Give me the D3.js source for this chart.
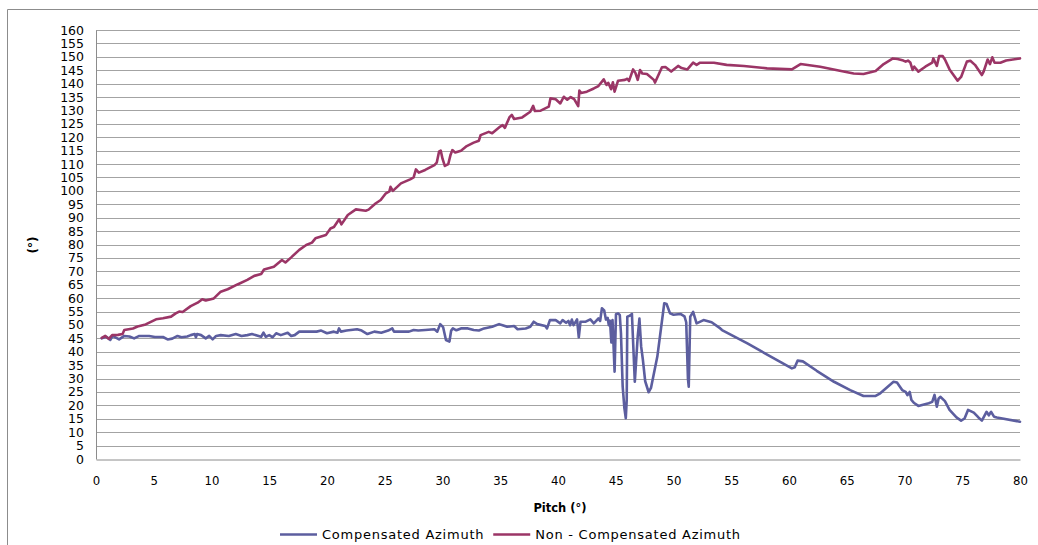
<!DOCTYPE html>
<html>
<head>
<meta charset="utf-8">
<script src="https://cdn.jsdelivr.net/npm/d3@7"></script>
<style>
  html, body { margin: 0; padding: 0; background: #fff; }
  svg { display: block; }
</style>
</head>
<body>
<svg id="chart" width="1038" height="545"></svg>
<script>
// Azimuth readings versus pitch angle, with and without tilt compensation.
const seriesNames = ["Compensated Azimuth", "Non - Compensated Azimuth"];
const xTicks = [0, 5, 10, 15, 20, 25, 30, 35, 40, 45, 50, 55, 60, 65, 70, 75, 80];
const yTicks = d3.range(0, 161, 5);

const compPitch = [0.5,0.9,1.24,1.44,2.0,2.45,2.9,3.3,3.75,4.6,5.1,5.8,6.2,6.6,7.06,7.4,7.9,8.2,8.55,8.65,8.75,9.1,9.5,9.8,10.1,10.4,10.8,11.5,12.1,12.6,13.1,13.5,14.3,14.5,14.7,15.0,15.3,15.6,16.0,16.6,16.9,17.2,17.6,18.6,19.1,19.5,20.0,20.6,20.9,21.04,21.2,21.7,22.6,23.0,23.5,24.1,24.7,25.3,25.65,25.8,26.4,27.1,27.5,27.9,28.5,29.3,29.55,29.8,30.05,30.3,30.6,30.75,30.9,31.2,31.6,32.2,32.7,33.15,33.6,34.3,34.9,35.2,35.6,36.2,36.5,37.2,37.6,37.9,38.2,38.9,39.05,39.3,39.8,40.2,40.4,40.7,40.9,41.05,41.2,41.35,41.65,41.8,41.95,42.4,42.8,43.1,43.5,43.65,43.8,44.0,44.15,44.3,44.4,44.5,44.62,44.72,44.9,45.02,45.2,45.35,45.45,45.6,45.75,45.87,45.95,46.0,46.2,46.4,46.65,46.9,47.05,47.2,47.35,47.55,47.85,48.05,48.6,48.9,49.2,49.4,49.7,50.0,50.6,50.95,51.1,51.25,51.32,51.45,51.7,52.0,52.6,53.3,54.05,54.2,56.4,59.2,60.25,60.5,60.75,61.2,62.4,63.9,65.3,66.45,67.5,67.9,69.05,69.35,69.8,70.1,70.25,70.45,70.6,70.8,71.2,72.1,72.4,72.6,72.8,72.95,73.1,73.5,73.9,74.5,74.9,75.2,75.5,76.0,76.4,76.7,77.1,77.3,77.5,77.75,78.0,80.0];
const compAzimuth = [45.0,45.6,44.4,45.9,44.6,45.9,45.7,45.0,45.9,45.9,45.5,45.5,44.6,44.9,45.9,45.4,45.7,46.2,46.6,45.4,46.6,46.2,45.0,45.9,44.6,45.9,46.2,45.9,46.6,45.9,46.2,46.6,45.6,47.1,45.6,46.2,45.4,46.9,46.2,47.1,45.9,46.2,47.5,47.5,47.5,47.9,46.9,47.5,47.1,48.7,47.5,47.9,48.4,47.9,46.6,47.5,47.1,47.9,48.7,47.5,47.5,47.5,48.1,47.9,48.1,48.4,47.5,50.3,49.2,44.4,43.8,47.9,48.7,48.0,48.7,48.7,48.1,47.9,48.7,49.3,50.3,49.9,49.3,49.6,48.4,48.7,49.3,51.2,50.3,49.6,48.7,51.8,51.8,50.6,51.8,50.8,51.5,49.9,52.0,49.9,52.1,45.4,51.2,51.2,52.1,50.6,52.4,51.5,56.2,55.4,52.0,52.6,49.9,51.6,43.5,51.8,32.6,54.0,54.3,53.7,47.0,27.0,18.9,15.2,22.0,53.1,53.4,54.1,28.8,45.6,52.4,41.9,37.0,29.0,24.9,26.5,38.2,48.1,58.1,57.8,54.3,53.8,54.1,53.2,51.0,30.0,27.0,53.1,54.9,50.6,51.8,51.0,48.7,48.1,43.1,36.3,33.8,34.2,36.7,36.4,32.9,28.8,25.7,23.5,23.5,24.5,28.8,28.5,25.7,25.0,23.8,25.0,22.0,21.0,19.8,20.8,21.3,23.9,19.5,22.5,23.2,21.6,18.3,15.5,14.3,15.1,18.3,17.3,15.5,14.3,17.6,16.3,17.6,15.8,15.5,13.9];

const rawPitch = [0.5,0.8,1.1,1.4,1.9,2.3,2.45,3.2,3.6,4.3,5.2,5.8,6.5,6.9,7.2,7.5,8.2,8.8,9.2,9.5,10.2,10.8,11.4,12.25,13.1,13.7,14.3,14.55,15.4,16.1,16.4,16.9,17.6,18.2,18.7,19.0,19.9,20.3,20.6,21.05,21.25,21.8,22.5,23.35,23.6,24.2,24.65,25.1,25.4,25.5,25.7,26.1,26.4,27.2,27.5,27.7,27.95,28.5,29.3,29.5,29.7,29.85,30.0,30.2,30.5,30.7,30.85,31.1,31.6,32.1,32.7,33.15,33.3,34.0,34.3,35.0,35.2,35.4,35.8,36.0,36.2,36.9,37.6,37.85,38.0,38.5,39.2,39.35,39.8,40.2,40.5,40.8,41.1,41.4,41.75,41.85,42.0,42.5,43.1,43.5,43.96,44.2,44.35,44.6,44.75,44.9,45.2,45.8,46.0,46.15,46.5,46.7,46.9,47.1,47.3,47.7,48.3,48.4,49.0,49.3,49.8,50.4,50.7,51.2,51.7,52.0,52.3,53.5,54.6,56.1,58.1,60.25,61.0,62.7,64.4,65.6,66.45,67.5,68.2,69.0,69.4,69.9,70.1,70.3,70.5,70.7,70.85,71.2,71.8,72.4,72.5,72.8,73.0,73.3,73.5,73.9,74.6,74.9,75.4,75.7,76.1,76.7,76.85,77.2,77.4,77.6,77.8,78.3,78.8,80.0];
const rawAzimuth = [45.2,45.9,44.8,46.2,46.3,46.6,48.1,48.7,49.4,50.2,52.1,52.5,53.1,54.3,55.0,54.8,57.0,58.3,59.6,59.1,59.9,62.4,63.3,65.1,66.8,68.3,69.0,70.7,71.7,74.2,73.3,75.2,78.0,79.8,80.7,82.3,83.5,86.0,86.5,89.4,87.5,91.0,93.1,92.6,93.0,95.3,96.6,99.1,99.8,101.5,100.0,101.6,102.8,104.3,105.0,108.0,106.8,107.8,109.6,110.5,114.6,115.0,112.0,109.3,110.0,113.5,115.2,114.3,115.0,116.7,118.0,118.7,120.8,122.0,121.5,124.0,124.5,123.5,127.5,128.3,126.8,127.4,129.5,131.7,129.8,129.9,131.4,134.5,134.2,132.6,135.1,134.0,135.0,134.2,131.6,137.4,136.5,137.0,138.2,139.1,141.6,139.5,140.3,137.9,140.5,137.0,141.1,141.4,141.8,141.0,145.3,144.0,141.4,145.1,143.8,143.6,141.4,140.4,146.1,146.2,144.5,146.6,145.8,145.3,147.8,147.0,147.8,147.8,147.0,146.6,145.7,145.3,147.3,146.3,144.8,143.8,143.6,144.7,147.3,149.4,149.2,148.6,148.2,148.6,147.9,145.1,146.3,144.5,146.3,147.8,149.4,146.6,150.3,150.3,149.0,145.3,141.1,142.5,148.2,148.5,147.0,143.2,144.5,149.0,147.3,149.8,147.8,147.8,148.6,149.4];

const colors = ["#5c5e9f", "#9b3566"];

const svg = d3.select("#chart");
const x = d3.scaleLinear().domain([0, 80]).range([96, 1020]);
const y = d3.scaleLinear().domain([0, 160]).range([459, 30]);

// Outer chart-area frame
svg.append("path")
  .attr("d", "M7.5,545 L7.5,9.5 L1038,9.5")
  .attr("fill", "none").attr("stroke", "#8c8c8c").attr("stroke-width", 1);

// Horizontal gridlines
svg.append("g")
  .selectAll("line")
  .data(yTicks.filter(d => d > 0))
  .join("line")
  .attr("x1", x(0)).attr("x2", x(80))
  .attr("y1", d => Math.round(y(d)) + 0.5).attr("y2", d => Math.round(y(d)) + 0.5)
  .attr("stroke", "#a3a3a3").attr("stroke-width", 1);

// Y axis
const yAxis = svg.append("g")
  .attr("transform", `translate(${x(0)},0)`)
  .call(d3.axisLeft(y).tickValues(yTicks).tickSize(0).tickPadding(12));
yAxis.select(".domain").attr("stroke", "#8c8c8c");
yAxis.selectAll("text")
  .attr("font-family", "'DejaVu Sans', Verdana, sans-serif")
  .attr("font-size", 12.5).attr("fill", "#000");

// X axis at zero
const xAxis = svg.append("g")
  .attr("transform", `translate(0,${Math.round(y(0)) + 0.5})`)
  .call(d3.axisBottom(x).tickValues(xTicks).tickSize(0).tickPadding(16));
xAxis.select(".domain").attr("stroke", "#8c8c8c");
xAxis.selectAll("text")
  .attr("font-family", "'Liberation Sans Narrow', 'DejaVu Sans Condensed', sans-serif")
  .attr("font-size", 13).attr("fill", "#000");

// Axis titles
svg.append("text")
  .attr("x", 560).attr("y", 512)
  .attr("text-anchor", "middle")
  .attr("font-family", "'DejaVu Sans', Verdana, sans-serif")
  .attr("font-size", 11.5).attr("font-weight", "bold")
  .text("Pitch (°)");

svg.append("text")
  .attr("transform", "translate(37,245) rotate(-90)")
  .attr("text-anchor", "middle")
  .attr("font-family", "'DejaVu Sans', Verdana, sans-serif")
  .attr("font-size", 12).attr("font-weight", "bold")
  .text("(°)");

// Series lines
const series = [
  { pitch: compPitch, values: compAzimuth },
  { pitch: rawPitch, values: rawAzimuth }
];
const line = d3.line()
  .x(d => x(d[0]))
  .y(d => y(d[1]))
  .curve(d3.curveLinear);

series.forEach((s, i) => {
  const pts = s.pitch.map((p, j) => [p, s.values[j]]);
  svg.append("path")
    .datum(pts)
    .attr("d", line)
    .attr("fill", "none")
    .attr("stroke", colors[i])
    .attr("stroke-width", 2.6)
    .attr("stroke-linejoin", "round")
    .attr("stroke-linecap", "round");
});

// Legend: entries laid out left to right, swatch then label
const legend = svg.append("g");
let cursor = 280;
seriesNames.forEach((name, i) => {
  legend.append("line")
    .attr("x1", cursor).attr("x2", cursor + 37)
    .attr("y1", 534.5).attr("y2", 534.5)
    .attr("stroke", colors[i]).attr("stroke-width", 2.5);
  const t = legend.append("text")
    .attr("x", cursor + 42).attr("y", 539)
    .attr("font-family", "'DejaVu Sans', Verdana, sans-serif")
    .attr("font-size", 13).attr("fill", "#000")
    .attr("letter-spacing", 0.75)
    .text(name);
  cursor += 42 + t.node().getComputedTextLength() + 9;
});
</script>
</body>
</html>
